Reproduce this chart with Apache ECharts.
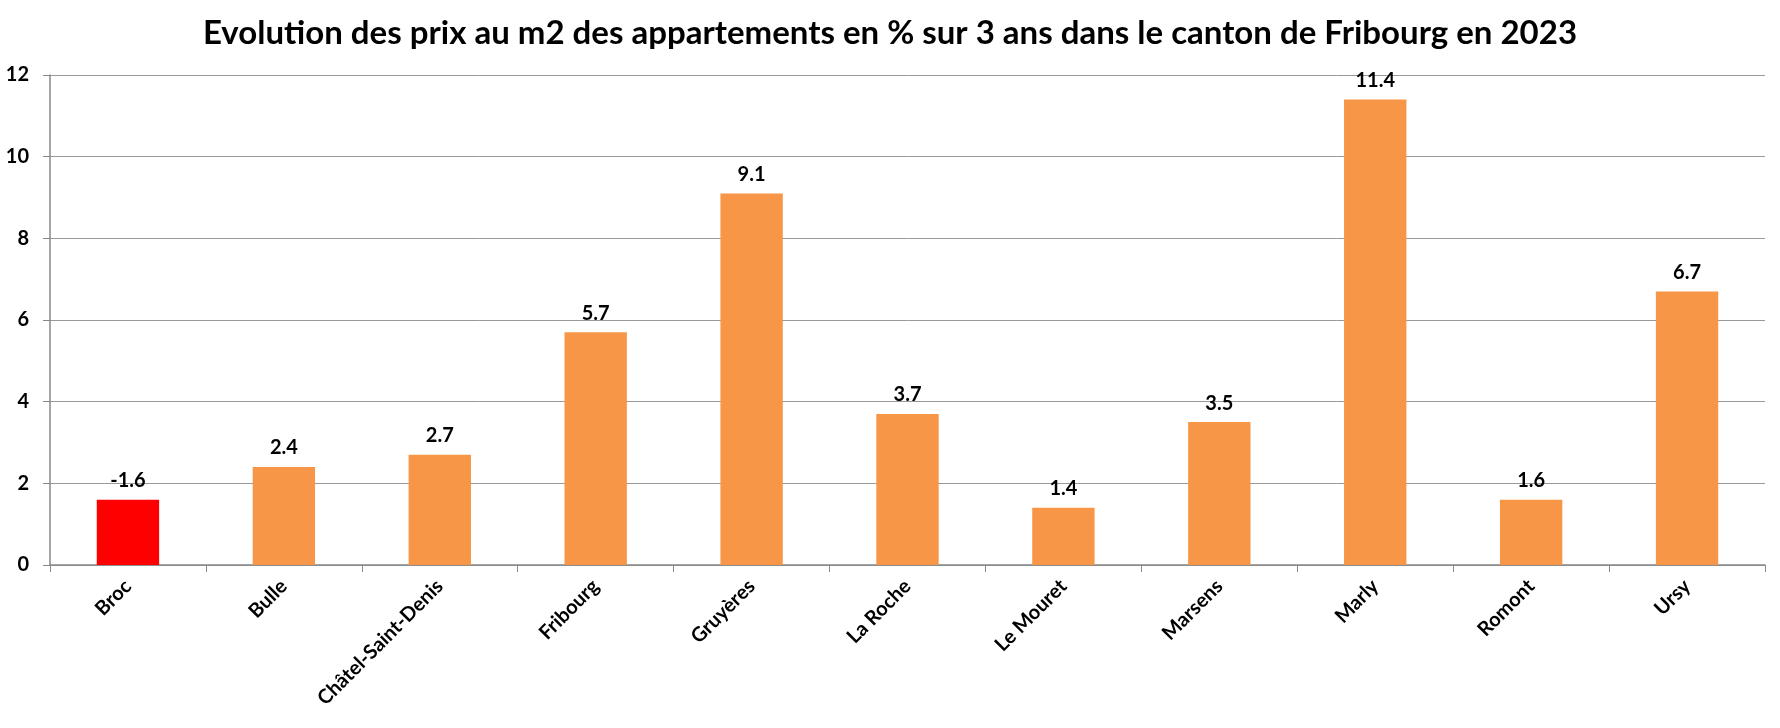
<!DOCTYPE html>
<html><head><meta charset="utf-8">
<script src="https://cdn.jsdelivr.net/npm/echarts@6/dist/echarts.min.js"></script>
<style>html,body{margin:0;padding:0;background:#fff}#c{width:1780px;height:728px}</style>
</head><body><div id="c"></div>
<script>
const titleText = 'Evolution des prix au m2 des appartements en % sur 3 ans dans le canton de Fribourg en 2023';
const categories = ['Broc','Bulle','Châtel-Saint-Denis','Fribourg','Gruyères','La Roche','Le Mouret','Marsens','Marly','Romont','Ursy'];
const changes = [-1.6, 2.4, 2.7, 5.7, 9.1, 3.7, 1.4, 3.5, 11.4, 1.6, 6.7];
const yTicks = [0, 2, 4, 6, 8, 10, 12];

const FONT = 'Lato';
const chart = echarts.init(document.getElementById('c'), null, {renderer:'canvas'});
chart.setOption({
  animation:false,
  backgroundColor:'#fff',
  title:{text:titleText,left:'center',top:12,textStyle:{fontFamily:FONT,fontWeight:'bold',fontSize:33,color:'#000'}},
  grid:{left:50,right:15,top:75,bottom:163,containLabel:false},
  xAxis:{type:'category',data:categories,boundaryGap:true,
    axisLine:{lineStyle:{color:'#888',width:1.5}},
    axisTick:{show:true,length:7,lineStyle:{color:'#888'}},
    axisLabel:{rotate:45,interval:0,margin:18,fontFamily:FONT,fontWeight:'bold',fontSize:20,color:'#000'}},
  yAxis:{type:'value',min:yTicks[0],max:yTicks[yTicks.length-1],interval:2,
    axisLine:{show:true,lineStyle:{color:'#888',width:1.5}},
    axisTick:{show:true,length:7,lineStyle:{color:'#888'}},
    splitLine:{lineStyle:{color:'#999',width:1}},
    axisLabel:{margin:21,fontFamily:FONT,fontWeight:'bold',fontSize:20,color:'#000'}},
  series:[{type:'bar',barWidth:'40%',
    data:changes.map(v=>({value:Math.abs(v),raw:v,itemStyle:{color:v<0?'#FF0000':'#F79646'}})),
    label:{show:true,position:'top',distance:9,fontFamily:FONT,fontWeight:'bold',fontSize:20,color:'#000',
      formatter:p=>p.data.raw.toFixed(1)}}]
});
</script></body></html>
